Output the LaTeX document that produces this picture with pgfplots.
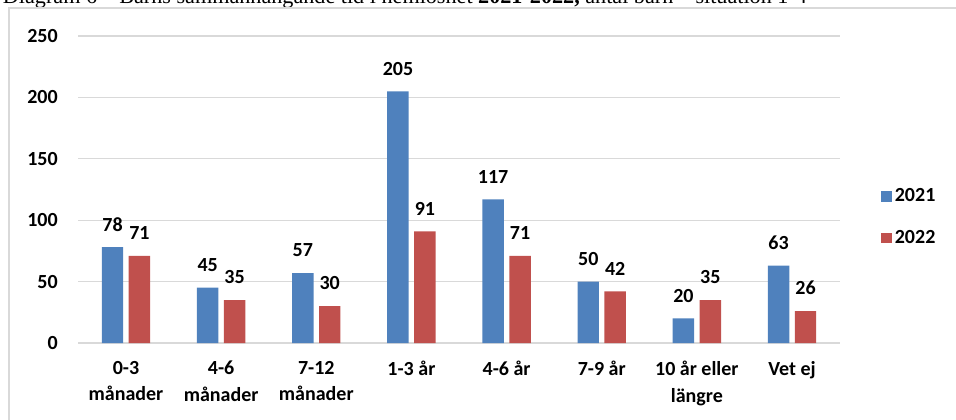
\documentclass[border=0pt]{standalone}
\usepackage{pgfplots}
\pgfplotsset{compat=1.18}
\usepackage{fontspec}
\setmainfont{Carlito}
\newfontfamily\titlefont{Liberation Serif}

\definecolor{barblue}{HTML}{4F81BD}
\definecolor{barred}{HTML}{C0504D}
\definecolor{gridgray}{HTML}{D9D9D9}

\begin{document}
\begin{tikzpicture}
\useasboundingbox (0,0) rectangle (717pt,314.25pt);
\clip (0,0) rectangle (717pt,314.25pt);

% title, cut off at the top like in the source
\node[anchor=base west, inner sep=0pt] at (2pt,311.5pt)
  {\resizebox{603pt}{!}{\titlefont Diagram 6 – Barns sammanhängande tid i hemlöshet \textbf{2021-2022,} antal barn – situation 1-4}};

% frame
\draw[gridgray, line width=1.1pt] (6.75pt,-5pt) -- (6.75pt,308.25pt) -- (725pt,308.25pt);

\begin{axis}[
    at={(58.8pt,57pt)}, anchor=south west,
    scale only axis,
    width=570.9pt, height=230.25pt,
    xmin=-0.5, xmax=7.5,
    ymin=0, ymax=250,
    ytick={0,50,...,250},
    xtick={0,...,7},
    xticklabels={{0-3\\månader},{4-6\\månader},{7-12\\månader},{1-3 år},{4-6 år},{7-9 år},{10 år eller\\längre},{Vet ej}},
    ybar, bar width=16.1pt,
    axis line style={draw=none},
    major tick length=0pt,
    ymajorgrids,
    grid style={gridgray, line width=1pt},
    /pgf/number format/assume math mode=true,
    tick label style={font=\fontsize{15}{20}\selectfont\bfseries},
    xticklabel style={align=center, yshift=-10pt},
    yticklabel style={xshift=-12pt},
    nodes near coords,
    every node near coord/.append style={font=\fontsize{15}{18}\selectfont\bfseries, yshift=8.5pt},
    legend style={at={(1.049,0.41)}, anchor=west, draw=none, fill=none,
        font=\fontsize{15}{18}\selectfont\bfseries, row sep=16pt},
    legend cell align=left,
    legend image code/.code={\fill[#1,draw=none] (0pt,-4.1pt) rectangle (8.25pt,4.1pt);},
]

\addplot [fill=barblue, draw=none, bar shift=-10.1pt] coordinates {
    (0,78) (1,45) (2,57) (3,205) (4,117) (5,50) (6,20) (7,63)
};
\addlegendentry{2021}

\addplot [fill=barred, draw=none, bar shift=10.1pt] coordinates {
    (0,71) (1,35) (2,30) (3,91) (4,71) (5,42) (6,35) (7,26)
};
\addlegendentry{2022}

\end{axis}
\end{tikzpicture}
\end{document}
